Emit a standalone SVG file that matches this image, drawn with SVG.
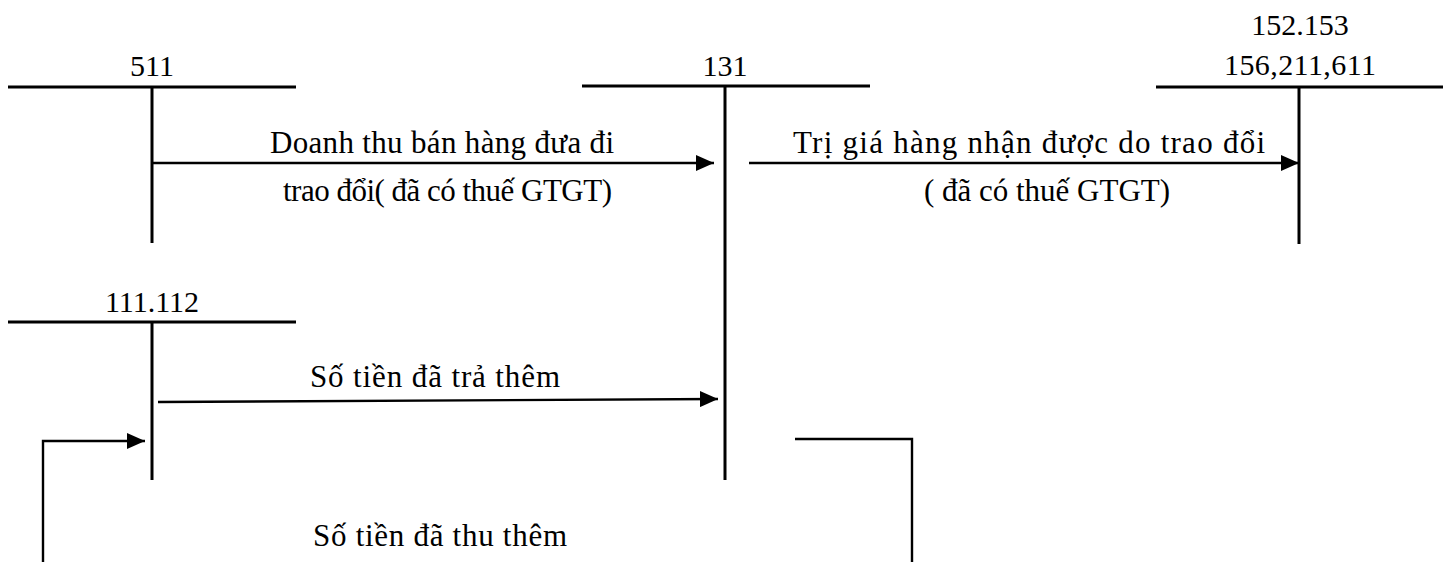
<svg xmlns="http://www.w3.org/2000/svg" width="1446" height="562" viewBox="0 0 1446 562">
<style>
  .acc { stroke:#000; stroke-width:3; fill:none; }
  .con { stroke:#000; stroke-width:2.4; fill:none; }
  text { font-family:"Liberation Serif","Times New Roman",serif; font-size:30px; fill:#000; }
  .lbl { font-size:31px; }
  .m { text-anchor:middle; }
</style>
<defs>
  <marker id="ah" viewBox="0 0 18 16" refX="18" refY="8" markerWidth="18" markerHeight="16" markerUnits="userSpaceOnUse" orient="auto">
    <path d="M0,0 L18,8 L0,16 Z" fill="#000"/>
  </marker>
</defs>
<rect width="1446" height="562" fill="#fff"/>

<g id="acc511">
  <line class="acc" x1="8" y1="87" x2="296" y2="87"/>
  <line class="acc" x1="152" y1="87" x2="152" y2="243"/>
  <text class="m" x="152" y="76">511</text>
</g>
<g id="acc131">
  <line class="acc" x1="582" y1="86" x2="870" y2="86"/>
  <line class="acc" x1="725" y1="86" x2="725" y2="480"/>
  <text class="m" x="725" y="76">131</text>
</g>
<g id="acc152">
  <line class="acc" x1="1156" y1="87" x2="1443" y2="87"/>
  <line class="acc" x1="1299" y1="87" x2="1299" y2="244"/>
  <text class="m" x="1300" y="35">152.153</text>
  <text class="m" x="1300" y="75" textLength="152" lengthAdjust="spacing">156,211,611</text>
</g>
<g id="acc111">
  <line class="acc" x1="8" y1="322" x2="296" y2="322"/>
  <line class="acc" x1="152" y1="322" x2="152" y2="480"/>
  <text class="m" x="152" y="312">111.112</text>
</g>

<g id="connectors">
  <line class="con" x1="152" y1="163" x2="714" y2="163" marker-end="url(#ah)"/>
  <line class="con" x1="749" y1="163" x2="1299" y2="163" marker-end="url(#ah)"/>
  <line class="con" x1="158" y1="402" x2="718" y2="399" marker-end="url(#ah)"/>
  <polyline class="con" points="43,562 43,441 145,441" marker-end="url(#ah)"/>
  <polyline class="con" points="795,439 912,439 912,562"/>
</g>

<g id="labels">
  <text class="lbl" x="270" y="153" textLength="344" lengthAdjust="spacing">Doanh thu bán hàng đưa đi</text>
  <text class="lbl" x="283" y="201" textLength="329" lengthAdjust="spacing">trao đổi( đã có thuế GTGT)</text>
  <text class="lbl" x="793" y="153" textLength="472" lengthAdjust="spacing">Trị giá hàng nhận được do trao đổi</text>
  <text class="lbl m" x="1047" y="201">( đã có thuế GTGT)</text>
  <text class="lbl" x="310" y="387" textLength="250" lengthAdjust="spacing">Số tiền đã trả thêm</text>
  <text class="lbl" x="313" y="546" textLength="254" lengthAdjust="spacing">Số tiền đã thu thêm</text>
</g>
</svg>
